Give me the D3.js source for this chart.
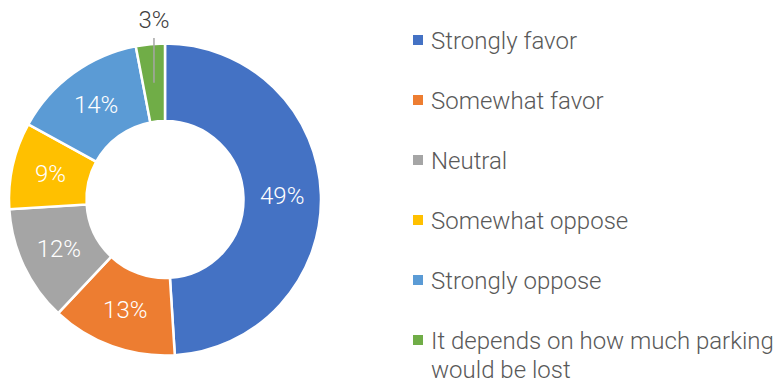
<!DOCTYPE html>
<html>
<head>
<meta charset="utf-8">
<script src="https://cdn.jsdelivr.net/npm/d3@7"></script>
<style>
  html, body { margin: 0; padding: 0; background: #fff; }
  svg { display: block; }
  text { font-family: Roboto, "Noto Sans", sans-serif; font-weight: 300; }
</style>
</head>
<body>
<svg id="chart" width="778" height="383"></svg>
<script>
const categories = ["Strongly favor", "Somewhat favor", "Neutral", "Somewhat oppose", "Strongly oppose", "It depends on how much parking would be lost"];
const legendLines = [["Strongly favor"], ["Somewhat favor"], ["Neutral"], ["Somewhat oppose"], ["Strongly oppose"], ["It depends on how much parking", "would be lost"]];
const values = [49, 13, 12, 9, 14, 3];
const colors = ["#4472C4", "#ED7D31", "#A5A5A5", "#FFC000", "#5B9BD5", "#70AD47"];

const svg = d3.select("#chart");
const cx = 165, cy = 199.5, rOuter = 156, rInner = 78.5;

const pie = d3.pie().sort(null).value(d => d);
const arcs = pie(values);
const arc = d3.arc().innerRadius(rInner).outerRadius(rOuter);
const color = d3.scaleOrdinal().domain(categories).range(colors);

const g = svg.append("g").attr("transform", `translate(${cx},${cy})`);
g.selectAll("path").data(arcs).join("path")
  .attr("d", arc)
  .attr("fill", (d, i) => color(categories[i]))
  .attr("stroke", "#fff")
  .attr("stroke-width", 2.5)
  .attr("stroke-linejoin", "miter");

// labels
arcs.forEach((d, i) => {
  const [x, y] = arc.centroid(d);
  const txt = d.data + "%";
  if (d.data >= 5) {
    g.append("text").attr("x", x).attr("y", y)
      .attr("text-anchor", "middle").attr("dominant-baseline", "central")
      .attr("fill", "#fff").attr("font-size", 24).text(txt);
  } else {
    const ly = -cy + 20;
    g.append("line").attr("x1", x).attr("x2", x).attr("y1", ly + 18).attr("y2", y)
      .attr("stroke", "#A6A6A6").attr("stroke-width", 1.5);
    g.append("text").attr("x", x).attr("y", ly)
      .attr("text-anchor", "middle").attr("dominant-baseline", "central")
      .attr("fill", "#404040").attr("font-size", 24).text(txt);
  }
});

// legend
const legend = svg.append("g");
const ly = d3.scalePoint().domain(categories).range([40, 340]);
categories.forEach((c, i) => {
  const y = ly(c);
  legend.append("rect").attr("x", 413).attr("y", y - 5).attr("width", 10).attr("height", 10)
    .attr("fill", color(c));
  legendLines[i].forEach((line, j) => {
    legend.append("text").attr("x", 431).attr("y", y + 9 + j * 29)
      .attr("fill", "#595959").attr("font-size", 24).text(line);
  });
});
</script>
</body>
</html>
